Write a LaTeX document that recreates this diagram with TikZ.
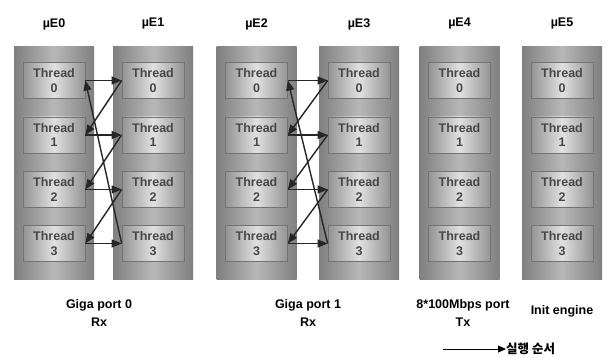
\documentclass[tikz,border=0pt]{standalone}
\usepackage{fontspec}
\setmainfont{Liberation Sans}
\newfontfamily\krfont{Noto Sans CJK KR}
\usetikzlibrary{arrows.meta}
\begin{document}
\begin{tikzpicture}[x=1pt,y=-1pt,
  colbox/.style={rectangle, minimum width=80pt, minimum height=233pt, inner sep=0pt, anchor=north,
    left color=black!50, right color=black!50, middle color=black!28},
  thbox/.style={rectangle, minimum width=62pt, minimum height=36pt, inner sep=0pt, align=center,
    left color=black!42, right color=black!42, middle color=black!12, draw=black!55, line width=0.7pt,
    font=\bfseries\fontsize{12.5}{14.5}\selectfont, text=black!72},
  head/.style={font=\bfseries\fontsize{12.5}{14}\selectfont, inner sep=0pt},
  foot/.style={font=\bfseries\fontsize{12.5}{18}\selectfont, align=center, inner sep=0pt},
  arr/.style={draw=black!85, line width=1.4pt, -{Triangle[length=10pt,width=8pt]}},
]
\useasboundingbox (0,0) rectangle (607,358);
\fill[white] (0,0) rectangle (607,358);
% columns
\foreach \i/\cx in {0/54,1/153,2/256.5,3/359,4/459.5,5/562}{
  \node[colbox] (col\i) at (\cx,46) {};
  \node[head] (lab\i) at (\cx,24) {µE\i};
  \foreach \j/\cy in {0/80.5,1/135,2/189.5,3/243.5}{
    \node[thbox] (e\i t\j) at (\cx,\cy) {Thread\\\j};
  }
}
% arrows between E0/E1 and E2/E3
\foreach \a/\b in {0/1,2/3}{
  \foreach \j in {0,1,2,3}{
    \draw[arr] (e\a t\j.east) -- (e\b t\j.west);
  }
  \draw[arr] (e\b t0.west) -- (e\a t1.east);
  \draw[arr] (e\b t1.west) -- (e\a t2.east);
  \draw[arr] (e\b t2.west) -- (e\a t3.east);
  \draw[arr] (e\b t3.west) -- (e\a t0.east);
}
% bottom labels
\node[foot] (f01) at (99,313) {Giga port 0\\Rx};
\node[foot] (f23) at (308,313) {Giga port 1\\Rx};
\node[foot] (f4) at (463,313) {8*100Mbps port\\Tx};
\node[foot] (f5) at (562,311) {Init engine};
% legend
\coordinate (lg) at (443,349);
\node[anchor=west, inner sep=0pt, font=\krfont\bfseries\fontsize{12.5}{14}\selectfont] (lgt) at (506,349) {실행 순서};
\draw[black, line width=1pt, -{Triangle[length=8pt,width=7pt]}] (lg) -- (lgt.west);
\end{tikzpicture}
\end{document}
